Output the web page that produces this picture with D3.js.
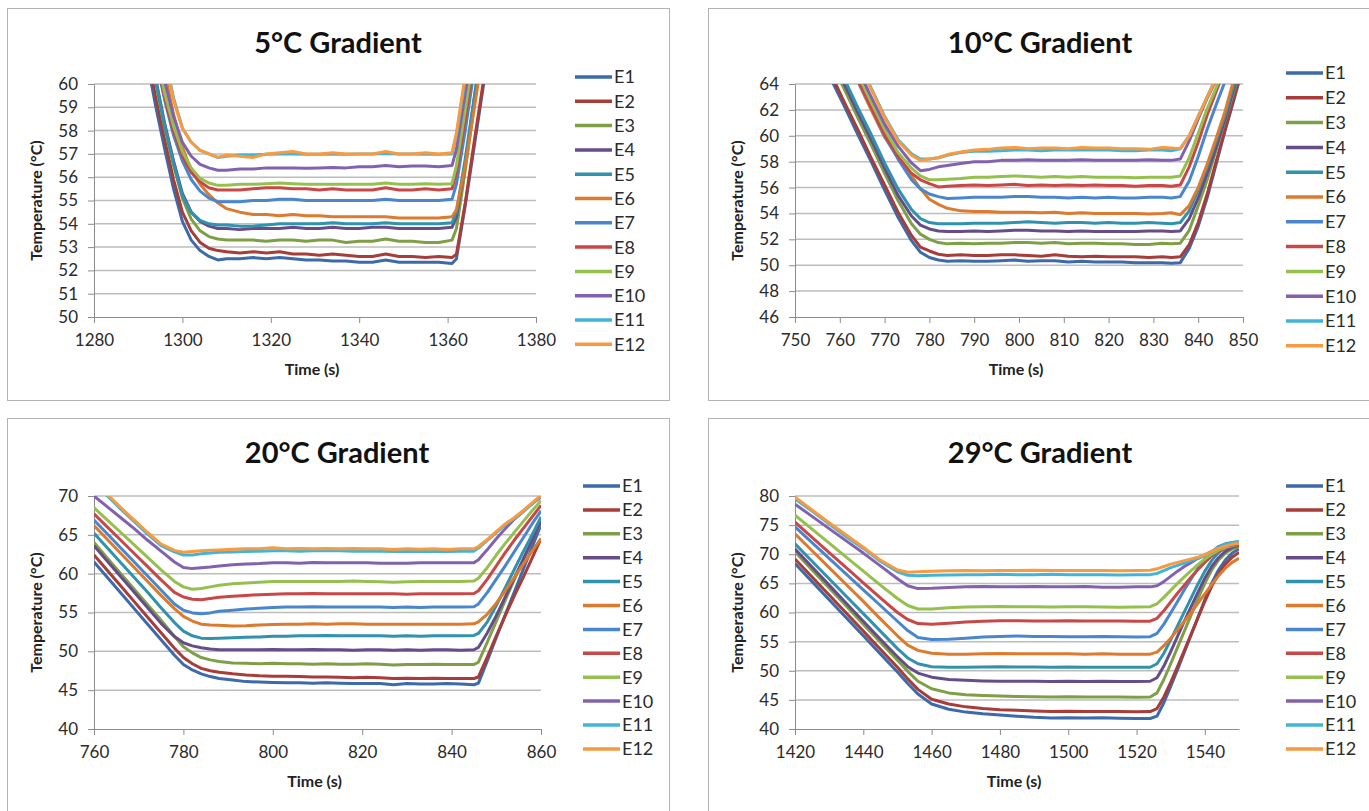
<!DOCTYPE html>
<html>
<head>
<meta charset="utf-8">
<script src="https://cdn.jsdelivr.net/npm/d3@7"></script>
<style>
  body { margin: 0; background: #fff; }
  svg { display: block; }
  text { font-family: Lato, "Open Sans", sans-serif; }
</style>
</head>
<body>
<svg id="chart" width="1369" height="811"></svg>
<script>
const seriesNames = ["E1", "E2", "E3", "E4", "E5", "E6", "E7", "E8", "E9", "E10", "E11", "E12"];
const seriesColors = ["#3c6aaa", "#a83c38", "#7e9f45", "#664d8a", "#3092ad", "#dc7a2e",
                      "#4a86ce", "#c84848", "#96c04e", "#8262ae", "#42b4d8", "#f79a40"];

// 5°C gradient
const t5 = [1290, 1292, 1294, 1296, 1298, 1300, 1302, 1304, 1306, 1308, 1310, 1313, 1316, 1319, 1322, 1325, 1328,
            1331, 1334, 1337, 1340, 1343, 1346, 1349, 1352, 1355, 1358, 1361, 1362, 1364, 1366, 1368, 1370];
const v5 = [
  [63.2, 61.0, 59.0, 57.2, 55.5, 54.1, 53.3, 52.85, 52.6, 52.45, 52.5, 52.5, 52.55, 52.5, 52.55, 52.5, 52.45, 52.45, 52.4, 52.4, 52.35, 52.35, 52.45, 52.35, 52.35, 52.35, 52.35, 52.3, 52.5, 54.8, 57.3, 59.8, 62.3],
  [63.6, 61.4, 59.4, 57.6, 55.9, 54.5, 53.7, 53.2, 52.95, 52.85, 52.8, 52.75, 52.8, 52.75, 52.8, 52.7, 52.7, 52.65, 52.7, 52.65, 52.6, 52.6, 52.7, 52.6, 52.6, 52.55, 52.6, 52.55, 52.7, 54.9, 57.5, 60.0, 62.5],
  [64.3, 62.1, 60.0, 58.1, 56.5, 55.1, 54.2, 53.7, 53.45, 53.35, 53.3, 53.3, 53.3, 53.25, 53.3, 53.3, 53.25, 53.3, 53.3, 53.2, 53.25, 53.25, 53.35, 53.25, 53.25, 53.2, 53.2, 53.3, 53.8, 56.3, 59.1, 61.8, 64.4],
  [64.5, 62.3, 60.2, 58.3, 56.7, 55.3, 54.5, 54.1, 53.9, 53.8, 53.8, 53.75, 53.8, 53.8, 53.8, 53.85, 53.8, 53.8, 53.85, 53.8, 53.8, 53.85, 53.85, 53.8, 53.8, 53.8, 53.8, 53.85, 54.3, 56.6, 59.3, 61.9, 64.5],
  [64.4, 62.2, 60.1, 58.2, 56.6, 55.2, 54.5, 54.15, 54.0, 53.95, 53.95, 53.9, 53.9, 53.95, 54.0, 54.0, 54.0, 54.0, 54.05, 54.0, 54.0, 54.0, 54.05, 54.0, 54.0, 54.0, 54.0, 54.05, 54.5, 56.8, 59.4, 62.0, 64.5],
  [66.5, 64.4, 62.4, 60.5, 58.7, 57.3, 56.3, 55.7, 55.25, 54.9, 54.65, 54.5, 54.4, 54.4, 54.35, 54.4, 54.35, 54.35, 54.3, 54.3, 54.3, 54.3, 54.3, 54.25, 54.25, 54.25, 54.25, 54.3, 54.6, 56.5, 58.9, 61.4, 63.9],
  [65.2, 63.1, 61.1, 59.3, 57.8, 56.7, 55.9, 55.4, 55.1, 54.95, 54.95, 54.95, 55.0, 55.0, 55.05, 55.05, 55.0, 55.0, 55.0, 55.0, 55.0, 55.0, 55.05, 55.0, 55.0, 55.0, 55.0, 55.05, 55.7, 58.0, 60.6, 63.1, 65.6],
  [65.3, 63.2, 61.2, 59.4, 58.0, 56.9, 56.2, 55.8, 55.55, 55.45, 55.45, 55.45, 55.5, 55.55, 55.55, 55.5, 55.5, 55.45, 55.5, 55.45, 55.45, 55.45, 55.55, 55.45, 55.45, 55.5, 55.45, 55.5, 56.2, 58.5, 61.0, 63.4, 65.8],
  [65.5, 63.4, 61.4, 59.6, 58.2, 57.1, 56.4, 55.95, 55.75, 55.65, 55.65, 55.7, 55.7, 55.72, 55.75, 55.72, 55.7, 55.7, 55.7, 55.7, 55.7, 55.7, 55.75, 55.7, 55.7, 55.72, 55.7, 55.72, 56.5, 58.9, 61.4, 63.9, 66.3],
  [66.0, 64.0, 62.0, 60.1, 58.6, 57.5, 56.9, 56.55, 56.4, 56.3, 56.3, 56.35, 56.35, 56.4, 56.4, 56.4, 56.38, 56.4, 56.42, 56.4, 56.45, 56.45, 56.5, 56.45, 56.48, 56.48, 56.45, 56.5, 57.2, 59.6, 62.1, 64.6, 67.0],
  [67.2, 65.2, 63.2, 61.2, 59.4, 58.1, 57.5, 57.15, 57.0, 56.85, 56.9, 56.95, 56.95, 56.98, 57.0, 57.0, 56.98, 56.98, 57.0, 56.98, 57.0, 57.0, 57.02, 57.0, 57.0, 56.98, 56.98, 57.0, 57.8, 60.2, 62.7, 65.2, 67.6],
  [67.0, 65.0, 63.0, 61.0, 59.3, 58.1, 57.5, 57.15, 57.0, 56.85, 56.95, 56.9, 56.85, 57.0, 57.05, 57.1, 57.0, 57.0, 57.05, 57.0, 57.0, 57.0, 57.1, 57.0, 57.0, 57.05, 57.0, 57.05, 57.9, 60.4, 63.0, 65.5, 68.0]
];

// 10°C gradient
const t10 = [755, 758, 761, 764, 767, 770, 773, 776, 778, 780, 782, 784, 787, 790, 793, 796, 799, 802, 805,
             808, 811, 814, 817, 820, 823, 826, 829, 832, 834, 836, 838, 840, 842, 844, 846, 848, 850];
const v10 = [
  [66.6, 64.4, 62.3, 60.1, 58.0, 55.8, 53.7, 51.9, 51.0, 50.6, 50.4, 50.3, 50.35, 50.3, 50.3, 50.35, 50.4, 50.3, 50.35, 50.35, 50.25, 50.3, 50.25, 50.25, 50.25, 50.2, 50.2, 50.2, 50.15, 50.2, 51.3, 53.0, 55.2, 57.8, 60.4, 62.8, 65.3],
  [66.9, 64.8, 62.6, 60.5, 58.3, 56.2, 54.1, 52.3, 51.4, 51.1, 50.85, 50.75, 50.8, 50.75, 50.75, 50.8, 50.8, 50.75, 50.7, 50.8, 50.7, 50.65, 50.7, 50.65, 50.65, 50.65, 50.6, 50.65, 50.6, 50.65, 51.6, 53.3, 55.5, 58.0, 60.5, 63.0, 65.5],
  [67.8, 65.7, 63.6, 61.4, 59.3, 57.1, 55.0, 53.2, 52.4, 52.0, 51.75, 51.65, 51.7, 51.65, 51.7, 51.7, 51.75, 51.75, 51.7, 51.75, 51.65, 51.7, 51.7, 51.65, 51.65, 51.6, 51.6, 51.7, 51.65, 51.7, 52.7, 54.6, 56.6, 58.9, 61.2, 63.5, 65.8],
  [68.2, 66.1, 64.0, 61.8, 59.7, 57.5, 55.4, 53.8, 53.1, 52.8, 52.65, 52.6, 52.6, 52.65, 52.6, 52.65, 52.7, 52.7, 52.65, 52.65, 52.6, 52.65, 52.6, 52.6, 52.6, 52.6, 52.65, 52.65, 52.6, 52.65, 53.6, 55.2, 57.1, 59.1, 61.3, 63.7, 66.0],
  [68.6, 66.5, 64.4, 62.2, 60.1, 57.9, 55.9, 54.3, 53.6, 53.3, 53.2, 53.2, 53.2, 53.25, 53.25, 53.25, 53.3, 53.35, 53.3, 53.25, 53.3, 53.3, 53.25, 53.3, 53.25, 53.25, 53.3, 53.25, 53.2, 53.3, 54.2, 55.8, 57.6, 59.6, 61.6, 64.0, 66.2],
  [70.6, 68.4, 66.3, 64.2, 62.0, 59.9, 58.3, 56.9, 55.9, 55.1, 54.7, 54.4, 54.2, 54.15, 54.15, 54.1, 54.1, 54.1, 54.05, 54.1, 54.0, 54.05, 54.0, 54.0, 54.0, 54.0, 53.95, 54.0, 54.05, 53.9, 54.6, 56.0, 57.8, 59.8, 61.9, 64.4, 66.6],
  [70.8, 68.6, 66.5, 64.3, 62.2, 60.0, 58.2, 56.6, 55.9, 55.5, 55.3, 55.15, 55.2, 55.25, 55.25, 55.25, 55.3, 55.3, 55.25, 55.25, 55.2, 55.25, 55.2, 55.25, 55.2, 55.2, 55.25, 55.25, 55.2, 55.3, 56.5, 58.4, 60.5, 62.4, 64.2, 66.0, 68.0],
  [70.8, 68.7, 66.5, 64.4, 62.2, 60.1, 58.4, 57.1, 56.6, 56.3, 56.05, 56.1, 56.15, 56.2, 56.15, 56.2, 56.25, 56.15, 56.2, 56.15, 56.2, 56.15, 56.2, 56.15, 56.15, 56.1, 56.15, 56.15, 56.1, 56.2, 57.6, 59.5, 61.6, 63.4, 65.2, 67.0, 69.0],
  [71.2, 69.1, 66.9, 64.8, 62.6, 60.5, 58.7, 57.5, 56.9, 56.6, 56.6, 56.65, 56.7, 56.8, 56.8, 56.85, 56.9, 56.85, 56.8, 56.85, 56.8, 56.85, 56.8, 56.8, 56.8, 56.75, 56.8, 56.8, 56.8, 56.9, 58.3, 60.2, 62.1, 63.7, 65.4, 67.2, 69.0],
  [71.6, 69.5, 67.3, 65.2, 63.0, 60.9, 59.2, 57.9, 57.3, 57.4, 57.6, 57.7, 57.85, 58.0, 58.0, 58.1, 58.1, 58.15, 58.1, 58.1, 58.1, 58.15, 58.1, 58.1, 58.1, 58.1, 58.15, 58.1, 58.1, 58.2, 59.6, 61.3, 62.9, 64.3, 65.8, 67.5, 69.2],
  [72.3, 70.1, 68.0, 65.8, 63.7, 61.5, 59.7, 58.6, 58.2, 58.2, 58.3, 58.5, 58.7, 58.8, 58.8, 58.85, 58.9, 58.9, 58.85, 58.9, 58.9, 58.9, 58.9, 58.9, 58.85, 58.85, 58.9, 58.9, 58.85, 59.0, 60.0, 61.5, 63.0, 64.5, 66.0, 67.6, 69.2],
  [72.2, 70.0, 67.9, 65.7, 63.6, 61.4, 59.6, 58.5, 58.1, 58.2, 58.3, 58.55, 58.75, 58.9, 58.95, 59.05, 59.1, 59.0, 59.05, 59.05, 59.0, 59.1, 59.05, 59.05, 59.0, 59.0, 58.95, 59.1, 59.05, 59.0, 60.0, 61.5, 63.0, 64.4, 66.0, 67.6, 69.2]
];

// 20°C gradient
const t20 = [760, 763, 766, 769, 772, 775, 778, 780, 782, 784, 786, 788, 791, 794, 797, 800, 803, 806, 809, 812,
             815, 818, 821, 824, 827, 830, 833, 836, 839, 842, 845, 846, 848, 850, 852, 854, 856, 858, 860];
const v20 = [
  [61.5, 59.5, 57.5, 55.5, 53.5, 51.5, 49.5, 48.3, 47.6, 47.1, 46.75, 46.5, 46.3, 46.1, 46.05, 46.0, 45.95, 45.95, 45.9, 45.95, 45.9, 45.85, 45.85, 45.85, 45.7, 45.85, 45.8, 45.8, 45.85, 45.8, 45.7, 45.9, 48.8, 51.8, 54.7, 57.6, 60.5, 63.4, 66.3],
  [62.4, 60.4, 58.4, 56.4, 54.4, 52.4, 50.4, 49.2, 48.4, 47.8, 47.5, 47.3, 47.1, 46.95, 46.85, 46.8, 46.8, 46.75, 46.7, 46.7, 46.65, 46.6, 46.65, 46.6, 46.5, 46.55, 46.5, 46.55, 46.5, 46.5, 46.5, 46.7, 49.3, 52.0, 54.6, 57.1, 59.5, 62.0, 64.5],
  [64.0, 62.0, 60.0, 58.0, 56.0, 54.0, 51.9, 50.6, 49.8, 49.2, 48.9, 48.7, 48.5, 48.45, 48.4, 48.45, 48.4, 48.4, 48.35, 48.4, 48.35, 48.35, 48.4, 48.35, 48.25, 48.3, 48.3, 48.35, 48.3, 48.3, 48.3, 48.6, 51.2, 53.9, 56.6, 59.2, 61.8, 64.3, 66.6],
  [63.6, 61.6, 59.6, 57.6, 55.6, 53.6, 51.9, 51.1, 50.7, 50.45, 50.3, 50.2, 50.2, 50.2, 50.2, 50.25, 50.2, 50.2, 50.25, 50.2, 50.2, 50.15, 50.2, 50.2, 50.15, 50.2, 50.15, 50.2, 50.2, 50.15, 50.2, 50.5, 52.4, 54.6, 57.0, 59.4, 61.8, 64.3, 66.8],
  [65.2, 63.3, 61.4, 59.5, 57.6, 55.6, 53.7, 52.6, 52.0, 51.7, 51.65, 51.7, 51.75, 51.8, 51.85, 51.95, 51.95, 52.0, 52.0, 52.05, 52.0, 52.0, 52.0, 52.0, 51.95, 52.0, 51.95, 52.0, 52.0, 52.0, 52.05, 52.3, 53.8, 55.9, 58.2, 60.5, 62.8, 65.0, 67.3],
  [66.2, 64.4, 62.6, 60.8, 59.0, 57.2, 55.5, 54.5, 53.9, 53.5, 53.4, 53.35, 53.25, 53.3, 53.4, 53.45, 53.5, 53.5, 53.55, 53.5, 53.55, 53.55, 53.5, 53.5, 53.5, 53.5, 53.5, 53.5, 53.5, 53.5, 53.55, 53.8, 54.8, 56.2, 57.8, 59.5, 61.2, 62.9, 64.5],
  [66.9, 65.1, 63.3, 61.5, 59.7, 57.9, 56.1, 55.3, 54.95, 54.85, 54.95, 55.15, 55.3, 55.45, 55.55, 55.65, 55.7, 55.7, 55.75, 55.7, 55.7, 55.7, 55.7, 55.7, 55.65, 55.7, 55.65, 55.7, 55.7, 55.7, 55.75, 56.1, 57.6, 59.3, 61.0, 62.8, 64.6, 66.4, 68.1],
  [67.7, 66.0, 64.3, 62.6, 60.9, 59.2, 57.6, 57.0, 56.7, 56.65, 56.8, 56.95, 57.1, 57.2, 57.3, 57.35, 57.4, 57.4, 57.45, 57.4, 57.4, 57.4, 57.4, 57.4, 57.4, 57.35, 57.4, 57.4, 57.4, 57.4, 57.45, 57.8, 59.3, 61.0, 62.7, 64.3, 65.8, 67.3, 68.8],
  [68.5, 66.9, 65.3, 63.7, 62.1, 60.5, 59.0, 58.3, 58.0, 58.1, 58.3, 58.5, 58.7, 58.8, 58.9, 59.0, 59.0, 59.0, 59.0, 59.0, 59.0, 59.05, 59.0, 58.95, 58.9, 58.95, 59.0, 59.0, 59.0, 59.0, 59.05, 59.4, 60.8, 62.4, 63.9, 65.3, 66.7, 68.1, 69.4],
  [70.0, 68.6, 67.2, 65.8, 64.3, 62.9, 61.5, 60.8, 60.65, 60.75, 60.85, 61.0, 61.15, 61.25, 61.3, 61.4, 61.4, 61.35, 61.45, 61.4, 61.4, 61.4, 61.4, 61.35, 61.35, 61.35, 61.4, 61.4, 61.4, 61.4, 61.4, 61.8, 63.1, 64.5, 65.8, 67.0, 68.0, 69.0, 69.9],
  [71.6, 70.0, 68.3, 66.7, 65.1, 63.6, 62.8, 62.4, 62.4, 62.55, 62.65, 62.75, 62.8, 62.85, 62.9, 62.95, 62.95, 62.9, 62.95, 62.95, 62.95, 62.9, 62.9, 62.9, 62.85, 62.9, 62.85, 62.9, 62.85, 62.9, 62.9, 63.3, 64.3, 65.3, 66.3, 67.1, 68.0, 69.0, 70.0],
  [71.8, 70.2, 68.5, 66.9, 65.3, 63.8, 63.0, 62.75, 62.85, 62.95, 63.0, 63.05, 63.15, 63.2, 63.2, 63.35, 63.2, 63.25, 63.2, 63.25, 63.2, 63.25, 63.2, 63.2, 63.1, 63.2, 63.15, 63.2, 63.1, 63.2, 63.2, 63.5, 64.4, 65.4, 66.4, 67.2, 68.1, 69.1, 70.1]
];

// 29°C gradient
const t29 = [1420, 1425, 1430, 1435, 1440, 1445, 1450, 1453, 1456, 1460, 1465, 1470, 1475, 1480, 1485, 1490, 1495, 1500,
             1505, 1510, 1515, 1520, 1524, 1526, 1528, 1530, 1532, 1534, 1536, 1538, 1540, 1542, 1544, 1546, 1548, 1550];
const v29 = [
  [68.4, 65.3, 62.2, 59.1, 56.0, 52.9, 49.8, 47.8, 46.0, 44.3, 43.4, 42.9, 42.6, 42.4, 42.2, 42.0, 41.9, 41.95, 41.9, 41.95, 41.85, 41.8, 41.8, 42.2, 44.5, 47.3, 50.2, 53.2, 56.2, 59.2, 62.2, 65.0, 67.3, 69.0, 70.2, 70.9],
  [69.2, 66.1, 63.0, 59.9, 56.8, 53.7, 50.6, 48.6, 46.8, 45.1, 44.3, 43.8, 43.5, 43.3, 43.2, 43.1, 43.0, 43.05, 43.0, 43.0, 43.0, 42.95, 43.0, 43.5, 45.5, 48.0, 50.7, 53.5, 56.3, 59.1, 61.9, 64.5, 66.6, 68.3, 69.5, 70.3],
  [70.4, 67.3, 64.2, 61.1, 58.0, 54.9, 51.8, 49.9, 48.2, 46.9, 46.2, 45.9, 45.75, 45.65, 45.6, 45.55, 45.5, 45.55, 45.5, 45.5, 45.5, 45.45, 45.5, 46.2, 48.5, 51.2, 54.0, 56.8, 59.6, 62.4, 65.0, 67.3, 69.0, 70.2, 70.9, 71.3],
  [70.9, 67.8, 64.7, 61.6, 58.5, 55.4, 52.4, 50.7, 49.6, 48.9, 48.5, 48.35, 48.25, 48.2, 48.2, 48.2, 48.15, 48.2, 48.15, 48.2, 48.15, 48.15, 48.2, 48.8, 50.8, 53.3, 55.9, 58.5, 61.0, 63.5, 65.9, 67.9, 69.4, 70.5, 71.2, 71.5],
  [71.8, 68.8, 65.8, 62.8, 59.8, 56.8, 53.8, 52.2, 51.2, 50.7, 50.6, 50.6, 50.65, 50.7, 50.65, 50.65, 50.6, 50.65, 50.6, 50.6, 50.6, 50.6, 50.6, 51.2, 53.0, 55.3, 57.7, 60.1, 62.5, 64.9, 67.1, 68.9, 70.3, 71.1, 71.6, 71.8],
  [73.5, 70.6, 67.7, 64.8, 61.9, 58.9, 56.0, 54.4, 53.5, 53.0, 52.85, 52.85, 52.9, 52.95, 52.9, 52.9, 52.9, 52.9, 52.85, 52.9, 52.85, 52.85, 52.85, 53.2, 54.3, 55.6, 57.0, 58.5, 60.0, 61.6, 63.2, 64.8, 66.3, 67.6, 68.6, 69.3],
  [74.7, 72.0, 69.3, 66.6, 63.9, 61.2, 58.5, 56.9, 55.7, 55.35, 55.4, 55.6, 55.8, 55.9, 55.95, 55.9, 55.9, 55.85, 55.85, 55.9, 55.85, 55.8, 55.85, 56.4, 58.0, 59.9, 61.9, 63.9, 65.8, 67.6, 69.2, 70.4, 71.3, 71.8, 72.0, 72.1],
  [75.5, 72.9, 70.3, 67.7, 65.1, 62.5, 60.0, 58.8, 58.1, 58.0, 58.15, 58.35, 58.5, 58.6, 58.6, 58.55, 58.55, 58.6, 58.55, 58.55, 58.55, 58.5, 58.5, 59.0, 60.3, 61.8, 63.3, 64.7, 66.1, 67.4, 68.6, 69.7, 70.5, 71.1, 71.4, 71.6],
  [76.7, 74.3, 71.9, 69.5, 67.1, 64.7, 62.4, 61.2, 60.6, 60.6, 60.8, 60.95, 61.0, 61.05, 61.0, 61.0, 60.95, 61.0, 61.0, 60.95, 60.9, 60.95, 61.0, 61.5, 62.6, 63.8, 65.0, 66.1, 67.2, 68.2, 69.2, 70.0, 70.7, 71.2, 71.5, 71.7],
  [78.6, 76.5, 74.4, 72.3, 70.2, 68.0, 65.8, 64.6, 64.1, 64.15, 64.3, 64.4, 64.45, 64.4, 64.4, 64.45, 64.4, 64.4, 64.45, 64.35, 64.35, 64.4, 64.4, 64.6, 65.3, 66.2, 67.1, 67.9, 68.6, 69.3, 69.9, 70.5, 71.0, 71.4, 71.6, 71.7],
  [79.5, 77.4, 75.2, 73.0, 71.0, 68.8, 67.0, 66.4, 66.3, 66.4, 66.45, 66.5, 66.5, 66.55, 66.5, 66.5, 66.55, 66.5, 66.5, 66.5, 66.45, 66.5, 66.5, 66.7, 67.2, 67.7, 68.1, 68.5, 68.9, 69.3, 69.8, 70.4, 71.1, 71.7, 72.0, 72.2],
  [79.8, 77.6, 75.4, 73.3, 71.2, 69.0, 67.3, 66.9, 67.0, 67.1, 67.15, 67.2, 67.15, 67.2, 67.2, 67.25, 67.2, 67.2, 67.2, 67.2, 67.15, 67.2, 67.25, 67.5, 67.9, 68.3, 68.6, 68.9, 69.2, 69.5, 69.9, 70.5, 71.0, 71.4, 71.7, 71.9]
];

const panels = [
  { title: "5°C Gradient", t: t5, v: v5, xDomain: [1280, 1380], xTicks: d3.range(1280, 1381, 20), yDomain: [50, 60], yTicks: d3.range(50, 61, 1) },
  { title: "10°C Gradient", t: t10, v: v10, xDomain: [750, 850], xTicks: d3.range(750, 851, 10), yDomain: [46, 64], yTicks: d3.range(46, 65, 2) },
  { title: "20°C Gradient", t: t20, v: v20, xDomain: [760, 860], xTicks: d3.range(760, 861, 20), yDomain: [40, 70], yTicks: d3.range(40, 71, 5) },
  { title: "29°C Gradient", t: t29, v: v29, xDomain: [1420, 1550], xTicks: d3.range(1420, 1541, 20), yDomain: [40, 80], yTicks: d3.range(40, 81, 5) }
];

// frame and plot boxes for each panel
const layout = [
  { x0: 7, y0: 8, w: 662, h: 392, l: 94, r: 536, t: 84, b: 317, legX: 575, legY: 77, legDy: 24.3, titleX: 338 },
  { x0: 708, y0: 8, w: 670, h: 392, l: 795, r: 1243, t: 84, b: 317, legX: 1286, legY: 73, legDy: 24.8, titleX: 1040 },
  { x0: 7, y0: 418, w: 662, h: 400, l: 94, r: 541, t: 496, b: 729, legX: 583, legY: 486, legDy: 23.9, titleX: 337 },
  { x0: 708, y0: 418, w: 670, h: 400, l: 795, r: 1239, t: 496, b: 729, legX: 1286, legY: 486, legDy: 23.9, titleX: 1040 }
];

const svg = d3.select("#chart");

panels.forEach((p, k) => drawPanel(p, layout[k], k));

function drawPanel(p, L, k) {
  const x = d3.scaleLinear().domain(p.xDomain).range([L.l, L.r]);
  const y = d3.scaleLinear().domain(p.yDomain).range([L.b, L.t]);
  const g = svg.append("g");

  g.append("rect")
    .attr("x", L.x0 + 0.5).attr("y", L.y0 + 0.5)
    .attr("width", L.w).attr("height", L.h)
    .attr("fill", "#fff").attr("stroke", "#b4b4b4");

  // horizontal gridlines
  g.append("g").selectAll("line")
    .data(p.yTicks.slice(1))
    .join("line")
    .attr("x1", L.l).attr("x2", L.r)
    .attr("y1", d => y(d)).attr("y2", d => y(d))
    .attr("stroke", "#bdbdbd").attr("stroke-width", 1.5);

  const xAxis = g.append("g")
    .attr("transform", `translate(0,${L.b})`)
    .call(d3.axisBottom(x).tickValues(p.xTicks).tickSize(6).tickSizeOuter(0).tickPadding(11).tickFormat(d3.format("d")));
  const yAxis = g.append("g")
    .attr("transform", `translate(${L.l},0)`)
    .call(d3.axisLeft(y).tickValues(p.yTicks).tickSize(6).tickSizeOuter(0).tickPadding(10).tickFormat(d3.format("d")));
  [xAxis, yAxis].forEach(a => {
    a.select(".domain").attr("stroke", "#8c8c8c");
    a.selectAll(".tick line").attr("stroke", "#8c8c8c");
    a.selectAll(".tick text").attr("fill", "#2b2b2b").style("font-size", "17px").style("font-family", "Lato, sans-serif");
  });

  // plot clip
  const clipId = `clip${k}`;
  svg.append("clipPath").attr("id", clipId)
    .append("rect").attr("x", L.l).attr("y", L.t).attr("width", L.r - L.l).attr("height", L.b - L.t);

  const line = d3.line()
    .x((d, i) => x(p.t[i]))
    .y(d => y(d));

  g.append("g").attr("clip-path", `url(#${clipId})`)
    .selectAll("path")
    .data(p.v)
    .join("path")
    .attr("d", line)
    .attr("fill", "none")
    .attr("stroke", (d, i) => seriesColors[i])
    .attr("stroke-width", 3)
    .attr("stroke-linejoin", "round");

  // title
  g.append("text")
    .attr("x", L.titleX).attr("y", L.y0 + 45)
    .attr("text-anchor", "middle")
    .style("font-size", "29px").style("font-weight", "bold")
    .attr("fill", "#111")
    .text(p.title);

  // axis titles
  g.append("text")
    .attr("x", (L.l + L.r) / 2 - 3).attr("y", L.b + 58)
    .attr("text-anchor", "middle")
    .style("font-size", "16px").style("font-weight", "bold")
    .attr("fill", "#222")
    .text("Time (s)");
  g.append("text")
    .attr("transform", `translate(${L.l - 52},${(L.t + L.b) / 2}) rotate(-90)`)
    .attr("text-anchor", "middle")
    .style("font-size", "16px").style("font-weight", "bold")
    .attr("fill", "#222")
    .text("Temperature (°C)");

  // legend
  const leg = g.append("g").selectAll("g")
    .data(seriesNames)
    .join("g")
    .attr("transform", (d, i) => `translate(${L.legX},${L.legY + i * L.legDy})`);
  leg.append("line")
    .attr("x1", 0).attr("x2", 37)
    .attr("stroke", (d, i) => seriesColors[i])
    .attr("stroke-width", 3.5);
  leg.append("text")
    .attr("x", 39).attr("dy", "0.36em")
    .style("font-size", "18px")
    .attr("fill", "#2b2b2b")
    .text(d => d);
}
</script>
</body>
</html>
